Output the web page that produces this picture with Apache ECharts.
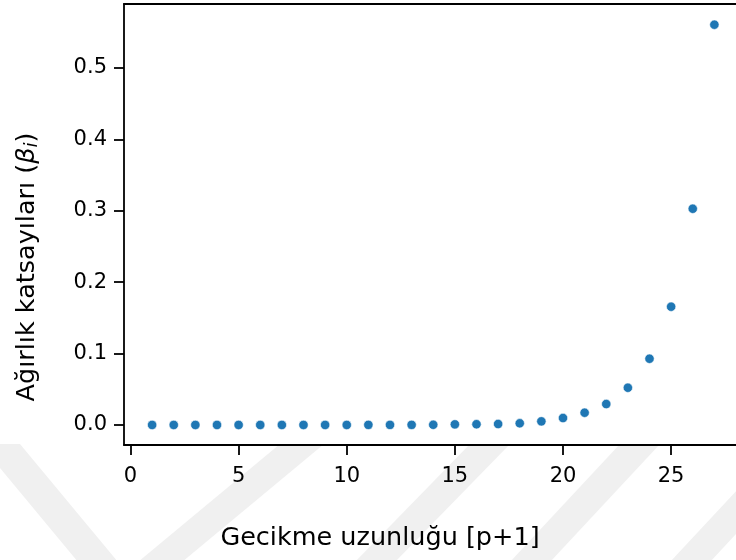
<!DOCTYPE html>
<html>
<head>
<meta charset="utf-8">
<script src="https://cdn.jsdelivr.net/npm/echarts@6/dist/echarts.min.js"></script>
<style>
  html, body { margin: 0; padding: 0; background: #ffffff; }
  #chart { width: 736px; height: 560px; }
</style>
</head>
<body>
<div id="chart"></div>
<script>
// Lag index (p+1) and the estimated weight coefficient for each lag
const lags = [1, 2, 3, 4, 5, 6, 7, 8, 9, 10, 11, 12, 13, 14, 15, 16, 17, 18, 19, 20, 21, 22, 23, 24, 25, 26, 27];
const weights = [0.0000, 0.0000, 0.0000, 0.0000, 0.0000, 0.0000, 0.0000, 0.0000, 0.0000, 0.0000,
                 0.0001, 0.0001, 0.0001, 0.0002, 0.0008, 0.0010, 0.0013, 0.0023, 0.0050, 0.0097,
                 0.0171, 0.0293, 0.0521, 0.0927, 0.1656, 0.3028, 0.5606];

// Axis tick positions
const xTicks = [0, 5, 10, 15, 20, 25];
const yTicks = [0, 0.1, 0.2, 0.3, 0.4, 0.5];

// Axis titles
const xTitle = 'Gecikme uzunluğu [p+1]';
const yTitlePlain = 'Ağırlık katsayıları (';

const FAMILY = 'DejaVu Sans';
const SPINE = { color: '#000000', width: 1.8 };
const TICK_FONT = { fontFamily: FAMILY, fontSize: 21, color: '#000000' };

// Faint diagonal background stripes below the plot
function band(xBottom, xTop, w) {
  return {
    type: 'polygon',
    z: -10,
    silent: true,
    shape: { points: [[xBottom - w / 2, 562], [xBottom + w / 2, 562], [xTop + w / 2, 444], [xTop - w / 2, 444]] },
    style: { fill: '#f0f0f0' }
  };
}

const chart = echarts.init(document.getElementById('chart'), null, { renderer: 'canvas' });

chart.setOption({
  animation: false,
  backgroundColor: '#ffffff',
  textStyle: { fontFamily: FAMILY },
  grid: {
    left: 124, top: 4, width: 612, height: 441,
    show: true, backgroundColor: '#ffffff', borderWidth: 0
  },
  xAxis: [{
    type: 'value',
    min: -0.3, max: 28.0,
    splitLine: { show: false },
    axisLine: { show: true, onZero: false, lineStyle: SPINE },
    axisTick: { show: true, customValues: xTicks, length: 10, lineStyle: SPINE },
    axisLabel: {
      customValues: xTicks, margin: 21,
      formatter: v => '{t|' + v + '}',
      rich: { t: TICK_FONT }
    }
  }, {
    // top spine
    type: 'value',
    position: 'top',
    min: -0.3, max: 28.0,
    splitLine: { show: false },
    axisLine: { show: true, onZero: false, lineStyle: SPINE },
    axisTick: { show: false },
    axisLabel: { show: false }
  }],
  yAxis: {
    type: 'value',
    min: -0.0281, max: 0.5896,
    splitLine: { show: false },
    axisLine: { show: true, onZero: false, lineStyle: SPINE },
    axisTick: { show: true, customValues: yTicks, length: 10, lineStyle: SPINE },
    axisLabel: {
      customValues: yTicks, margin: 17,
      formatter: v => '{t|' + v.toFixed(1) + '}',
      rich: { t: TICK_FONT }
    }
  },
  series: [{
    type: 'scatter',
    xAxisIndex: 0,
    data: lags.map((x, i) => [x, weights[i]]),
    symbol: 'circle',
    symbolSize: 9.4,
    itemStyle: { color: '#1f77b4', borderColor: '#ffffff', borderWidth: 0.6, opacity: 1 },
    clip: false
  }],
  graphic: [
    band(98, 0, 40),
    band(160, 302, 44),
    band(375, 490, 40),
    band(530, 640, 40),
    band(690, 800, 40),
    {
      type: 'text',
      x: 380, y: 538,
      z: 10,
      style: {
        text: xTitle,
        font: '25.5px ' + FAMILY,
        fill: '#000000',
        align: 'center',
        verticalAlign: 'middle'
      }
    },
    {
      type: 'text',
      x: 27, y: 267,
      rotation: Math.PI / 2,
      z: 10,
      style: {
        text: yTitlePlain + '{b|β}{s|i})',
        font: '25.5px ' + FAMILY,
        fill: '#000000',
        align: 'center',
        verticalAlign: 'middle',
        rich: {
          b: { fontFamily: FAMILY, fontSize: 25.5, fontStyle: 'italic', fill: '#000000' },
          s: { fontFamily: FAMILY, fontSize: 18, fontStyle: 'italic', fill: '#000000', padding: [11, 0, 0, 0] }
        }
      }
    }
  ]
});
</script>
</body>
</html>
